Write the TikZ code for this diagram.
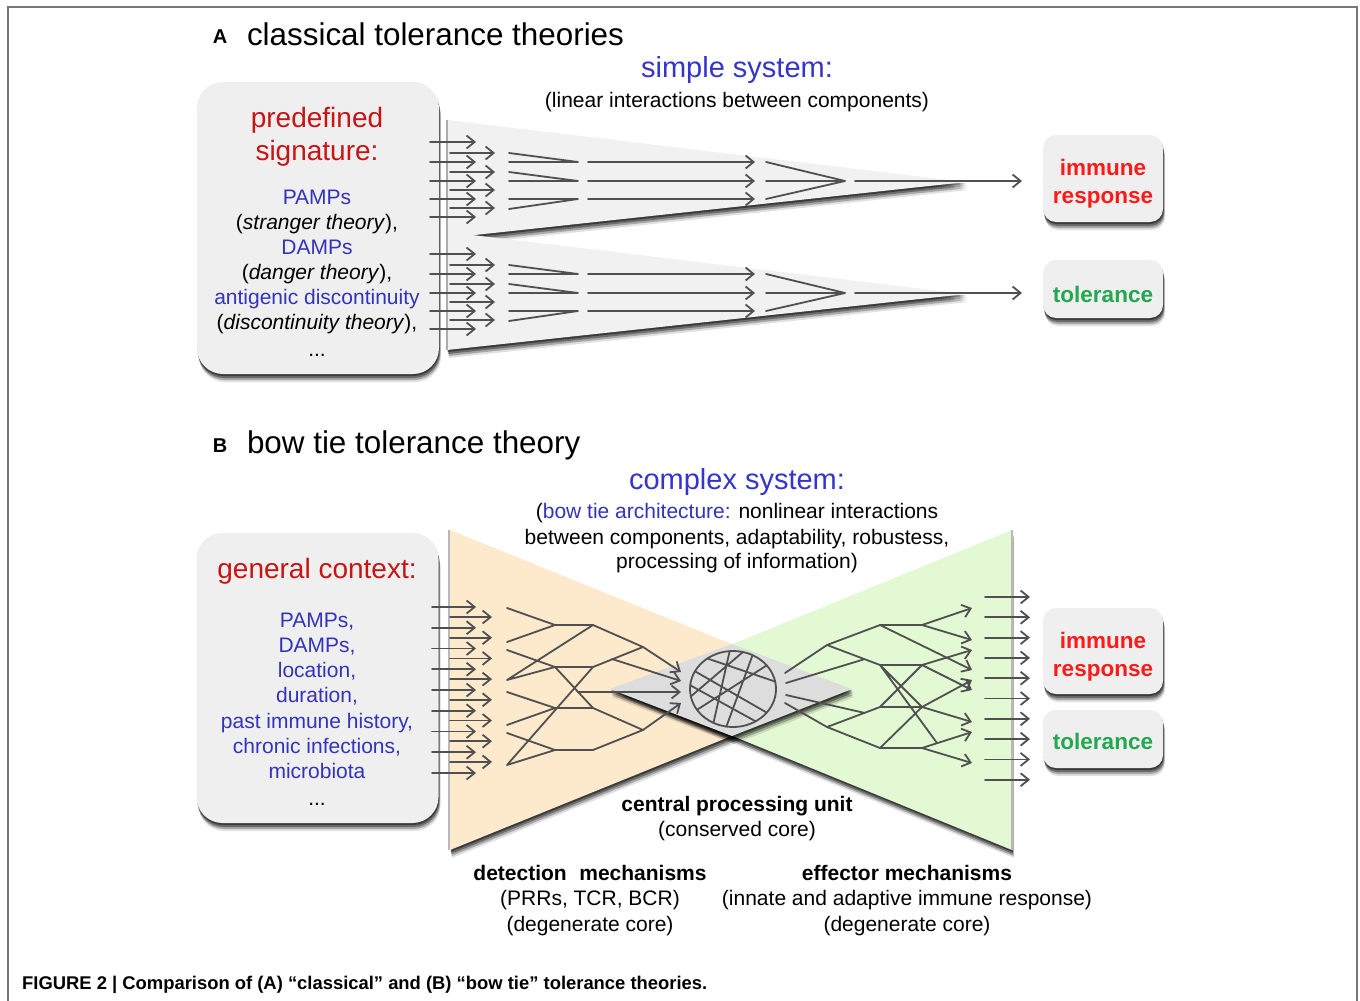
\documentclass[tikz,border=0pt]{standalone}
\usepackage{fontspec}
\setmainfont{Liberation Sans}
\usetikzlibrary{arrows.meta,shadows,shapes.geometric}
\definecolor{netc}{HTML}{505050}
\definecolor{boxc}{HTML}{EFEFEF}
\definecolor{wedgec}{HTML}{F1F1F1}
\definecolor{orangec}{HTML}{FDEACD}
\definecolor{greenc}{HTML}{E3F9D3}
\definecolor{diamc}{HTML}{DDDDDD}
\definecolor{titred}{HTML}{C81414}
\definecolor{sysblue}{HTML}{3535CC}
\definecolor{listblue}{HTML}{3333BB}
\definecolor{resred}{HTML}{FF1A1A}
\definecolor{tolgreen}{HTML}{22A84E}
\definecolor{framec}{HTML}{777777}
\newcommand\myfs[1]{\fontsize{#1pt}{#1pt}\selectfont}
\tikzset{
  net/.style={draw=netc, line width=1.8pt, line cap=round, line join=round},
  arr/.style={net, -{Straight Barb[length=8pt,width=13pt]}},
  shd/.style={
    drop shadow={shadow xshift=0.5pt, shadow yshift=-2pt, opacity=0.45, fill=black},
    drop shadow={shadow xshift=1pt, shadow yshift=-4pt, opacity=0.35, fill=black},
    drop shadow={shadow xshift=1.5pt, shadow yshift=-6pt, opacity=0.25, fill=black},
    drop shadow={shadow xshift=2pt, shadow yshift=-8pt, opacity=0.12, fill=black}},
  bigbox/.style={shd, fill=boxc, rounded corners=26pt, inner sep=0pt, outer sep=0pt, minimum width=242pt},
  smallbox/.style={shd, fill=boxc, rounded corners=13pt, inner sep=0pt, outer sep=0pt, minimum width=120pt},
  lbl/.style={anchor=base, inner sep=0pt, outer sep=0pt},
  t21/.style={lbl, font=\myfs{21}},
  tb21/.style={lbl, font=\myfs{21}\bfseries},
  tb22/.style={lbl, font=\myfs{22.5}\bfseries},
  tb20/.style={lbl, font=\myfs{20}\bfseries},
  t28/.style={lbl, font=\myfs{28}, text=titred},
  t29/.style={lbl, font=\myfs{29}, text=sysblue},
  t31/.style={lbl, anchor=base west, font=\myfs{31.4}},
  blu/.style={t21, text=listblue},
}
\begin{document}
\begin{tikzpicture}[x=1pt,y=-1pt]
\useasboundingbox (0,0) rectangle (1360,1001);
\fill[white] (0,0) rectangle (1360,1001);
\draw[framec, line width=1.5pt] (8,1001) -- (8,7) -- (1357,7) -- (1357,1001);

% ---------------- Panel A ----------------
\node[tb20] (labA) at (220,43) {A};
\node[t31] (titA) at (247,45) {classical tolerance theories};
\node[t29] (sysA) at (737,77) {simple system:};
\node[t21] (sysA2) at (737,107) {(linear interactions between components)};

\node[bigbox, minimum height=292pt] (boxA) at (318,228) {};
\node[t28] (pA1) at (317,127) {predefined};
\node[t28] (pA2) at (317,160) {signature:};
\node[blu] (pA3) at (317,204) {PAMPs};
\node[t21] (pA4) at (317,229) {(\textit{stranger theory}),};
\node[blu] (pA5) at (317,254) {DAMPs};
\node[t21] (pA6) at (317,279) {(\textit{danger theory}),};
\node[blu] (pA7) at (317,304) {antigenic discontinuity};
\node[t21] (pA8) at (317,329) {(\textit{discontinuity theory}),};
\node[t21] (pA9) at (317,356) {...};

\node[smallbox, minimum height=87pt] (irA) at (1103,178.5) {};
\node[tb22, text=resred] (irA1) at (1103,175) {immune};
\node[tb22, text=resred] (irA2) at (1103,203) {response};
\node[smallbox, minimum height=58pt] (tolA) at (1103,289) {};
\node[tb22, text=tolgreen] (tolA1) at (1103,302) {tolerance};

\foreach \dy/\nm in {0/1,112/2}{
\begin{scope}[shift={(0,\dy)}]
  \fill[wedgec, shd] (447,120) -- (966,182) -- (447,238) -- cycle;
  \draw[gray!65, line width=2pt] (447,120) -- (447,238);
  \foreach \y in {142,162,181,199,217} \draw[arr] (430,\y) -- (476,\y);
  \foreach \y in {153,172,190,208} \draw[arr] (450,\y) -- (495,\y);
  \draw[net] (509,153) -- (578,162) (509,162) -- (578,162)
             (509,172) -- (578,181) (509,181) -- (578,181)
             (509,199) -- (578,199) (509,209) -- (578,199);
  \foreach \y in {162,181,199} \draw[arr] (588,\y) -- (755,\y);
  \draw[net] (766,162) -- (845,181) (766,181) -- (845,181) (766,199) -- (845,181);
  \coordinate (sA\nm) at (855,181);
  \coordinate (eA\nm) at (1022,181);
  \draw[arr] (sA\nm) -- (eA\nm);
\end{scope}}

% ---------------- Panel B ----------------
\node[tb20] (labB) at (220,452) {B};
\node[t31] (titB) at (247,453) {bow tie tolerance theory};
\node[t29] (sysB) at (737,489) {complex system:};
\node[t21] (sysB2) at (737,518) {(\textcolor{listblue}{bow tie architecture:} nonlinear interactions};
\node[t21] (sysB3) at (737,544) {between components, adaptability, robustess,};
\node[t21] (sysB4) at (737,568) {processing of information)};

\node[bigbox, minimum height=290pt] (boxB) at (317.5,678) {};
\node[t28] (gB1) at (317,578) {general context:};
\node[blu] (gB2) at (317,627) {PAMPs,};
\node[blu] (gB3) at (317,652.3) {DAMPs,};
\node[blu] (gB4) at (317,677.6) {location,};
\node[blu] (gB5) at (317,702.9) {duration,};
\node[blu] (gB6) at (317,728.2) {past immune history,};
\node[blu] (gB7) at (317,753.5) {chronic infections,};
\node[blu] (gB8) at (317,778.8) {microbiota};
\node[t21] (gB9) at (317,805) {...};

% bow tie shapes
\fill[orangec, shd] (450,530) -- (845,690) -- (450,850) -- cycle;
\fill[greenc, shd] (1012,530) -- (620,690) -- (1012,850) -- cycle;
\draw[gray!55, line width=1.5pt] (449,530) -- (449,850);
\draw[gray!55, line width=1.5pt] (1012,530) -- (1012,850);
\fill[diamc, shd] (610,689) -- (732,644) -- (852,689) -- (732,736) -- cycle;
\node[ellipse, draw=netc, line width=1.8pt, fill=diamc, minimum width=86pt, minimum height=76pt, inner sep=0pt, outer sep=0pt] (cpu) at (733,689) {};
\draw[net] (cpu.155) -- (cpu.-35) (cpu.95) -- (cpu.-120) (cpu.60) -- (cpu.-100)
           (cpu.175) -- (cpu.-55) (cpu.130) -- (cpu.10) (cpu.35) -- (cpu.-150)
           (cpu.-170) -- (cpu.75);

% input arrows
\foreach \i in {0,...,8} \draw[arr] (432,{607+20.75*\i}) -- (476,{607+20.75*\i});
\foreach \i in {0,...,7} \draw[arr] (450,{617+20.7*\i}) -- (492,{617+20.7*\i});

% left network
\coordinate (a1) at (507,608); \coordinate (a2) at (507,642);
\coordinate (a3) at (507,650); \coordinate (a4) at (507,680);
\coordinate (a5) at (507,692); \coordinate (a6) at (507,725);
\coordinate (a7) at (507,733); \coordinate (a8) at (507,765);
\coordinate (b1) at (555,625); \coordinate (b2) at (555,667);
\coordinate (b3) at (555,708); \coordinate (b4) at (555,750);
\coordinate (c1) at (593,625); \coordinate (c2) at (593,667);
\coordinate (c3) at (593,708); \coordinate (c4) at (593,750);
\coordinate (d1) at (643,647); \coordinate (d2) at (643,730);
\coordinate (e1) at (612,659); \coordinate (h1) at (578,692);
\coordinate (t1) at (681,672); \coordinate (t2) at (681,681);
\coordinate (t3) at (681,692); \coordinate (t4) at (681,703);
\draw[net] (a1) -- (b1) (a2) -- (b1) (b1) -- (c1) (c1) -- (d1) (c1) -- (a4)
           (a3) -- (b2) (a4) -- (b2) (b2) -- (c2) (c2) -- (d1) (b2) -- (c3)
           (a5) -- (b3) (a6) -- (b3) (b3) -- (c3) (c2) -- (a8)
           (a7) -- (b4) (a8) -- (b4) (b4) -- (c4) (c3) -- (d2) (c4) -- (d2);
\draw[arr] (d1) -- (t1);
\draw[arr] (e1) -- (t2);
\draw[arr] (h1) -- (t3);
\draw[arr] (d2) -- (t4);

% right network
\coordinate (s1) at (785,673); \coordinate (s2) at (786,683);
\coordinate (s3) at (786,695); \coordinate (s4) at (785,703);
\coordinate (p1) at (827,645); \coordinate (p2) at (827,727);
\coordinate (q1) at (880,625); \coordinate (q2) at (880,665);
\coordinate (q3) at (880,707); \coordinate (q4) at (880,748);
\coordinate (r1) at (922,625); \coordinate (r2) at (922,665);
\coordinate (r3) at (922,707); \coordinate (r4) at (922,748);
\coordinate (m1) at (865,659); \coordinate (m2) at (865,713);
\coordinate (n1) at (937,743);
\coordinate (T1) at (972,608); \coordinate (T2) at (972,640);
\coordinate (T3) at (972,650); \coordinate (T4) at (972,670);
\coordinate (T5) at (972,680); \coordinate (T6) at (972,690);
\coordinate (T7) at (972,722); \coordinate (T8) at (972,732);
\coordinate (T9) at (972,763);
\draw[net] (s1) -- (p1) (p1) -- (q1) (q1) -- (r1) (p1) -- (q2) (s2) -- (m1)
           (q2) -- (r2) (q2) -- (r3) (r2) -- (q3) (q3) -- (r3)
           (s3) -- (m2) (p2) -- (q3) (s4) -- (p2) (p2) -- (q4) (q4) -- (r4)
           (q4) -- (r3) (q2) -- (n1);
\draw[arr] (r1) -- (T1);
\draw[arr] (r1) -- (T2);
\draw[arr] (r2) -- (T3);
\draw[arr] (q1) -- (T4);
\draw[arr] (r3) -- (T5);
\draw[arr] (r2) -- (T6);
\draw[arr] (r3) -- (T7);
\draw[arr] (r4) -- (T8);
\draw[arr] (r4) -- (T9);

% output arrows
\foreach \i in {0,...,9} \draw[arr] (985,{597+20.3*\i}) -- (1030,{597+20.3*\i});

\node[smallbox, minimum height=86pt] (irB) at (1103,651) {};
\node[tb22, text=resred] (irB1) at (1103,648) {immune};
\node[tb22, text=resred] (irB2) at (1103,676) {response};
\node[smallbox, minimum height=58pt] (tolB) at (1103,739) {};
\node[tb22, text=tolgreen] (tolB1) at (1103,749) {tolerance};

\node[tb21] (cpu1) at (737,811) {central processing unit};
\node[t21] (cpu2) at (737,836) {(conserved core)};
\node[tb21] (det1) at (590,880) {detection\hspace{0.6em}mechanisms};
\node[t21] (det2) at (590,905) {(PRRs, TCR, BCR)};
\node[t21] (det3) at (590,931) {(degenerate core)};
\node[tb21] (eff1) at (907,880) {effector mechanisms};
\node[t21] (eff2) at (907,905) {(innate and adaptive immune response)};
\node[t21] (eff3) at (907,931) {(degenerate core)};

\node[anchor=base west, inner sep=0pt, font=\bfseries\myfs{18.4}] (cap) at (22,989)
  {FIGURE 2 | Comparison of (A) “classical” and (B) “bow tie” tolerance theories.};
\end{tikzpicture}
\end{document}
